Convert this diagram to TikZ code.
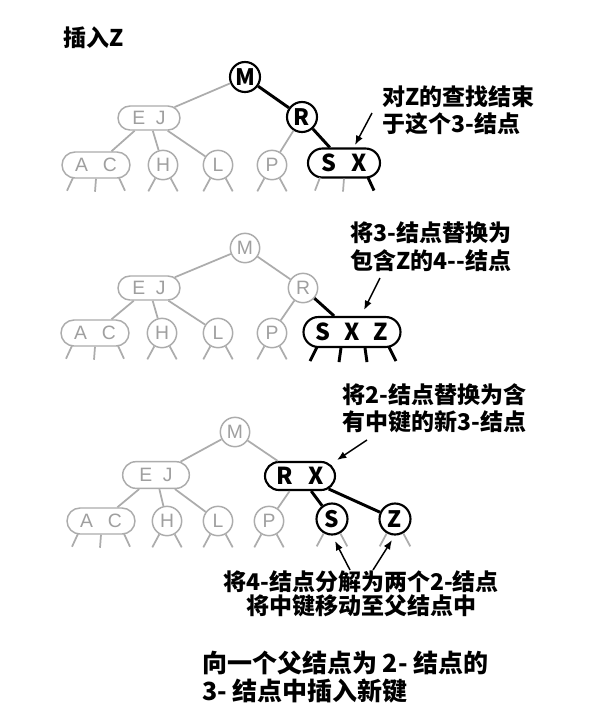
\documentclass[tikz,border=0pt]{standalone}
\usepackage{fontspec}
\setmainfont{Noto Sans CJK SC}
\newfontfamily\grayfont{Liberation Sans}
\usetikzlibrary{shapes.misc,arrows.meta,calc}
\begin{document}
\begin{tikzpicture}[x=0.75pt,y=-0.75pt,
  bc/.style={circle,draw=black,line width=1.6pt,minimum size=22.5pt,inner sep=0pt,font=\bfseries\fontsize{17}{17}\selectfont},
  gc/.style={circle,draw=gray!65,line width=1.1pt,minimum size=22pt,inner sep=0pt,text=gray!75,font=\grayfont\fontsize{14.5}{14.5}\selectfont},
  bo/.style={rounded rectangle,draw=black,line width=1.6pt,inner sep=0pt,font=\bfseries\fontsize{17.5}{17.5}\selectfont},
  go/.style={rounded rectangle,draw=gray!65,line width=1.1pt,inner sep=0pt,text=gray!75,font=\grayfont\fontsize{14.5}{14.5}\selectfont},
  be/.style={line width=2.2pt,black},
  ge/.style={line width=1.3pt,gray!65},
  lab/.style={anchor=west,inner sep=0pt,font=\bfseries\fontsize{17.25}{17.25}\selectfont},
  captxt/.style={anchor=west,inner sep=0pt,font=\bfseries\fontsize{18.75}{18.75}\selectfont},
  arr/.style={-{Latex[length=7pt,width=5.5pt]},line width=1.1pt},
]
\fill[white] (0,0) rectangle (615,726);
\path[use as bounding box] (0,0) rectangle (615,726);

\node[lab] (title) at (63,38) {插入Z};

% ---------- diagram 1
\node[bc] (M1) at (245,77) {M};
\node[bc] (R1) at (302,117) {R};
\node[go,minimum width=46.5pt,minimum height=18pt] (EJ1) at (149,118) {E\hspace{8pt}J};
\node[go,minimum width=51pt,minimum height=19.5pt] (AC1) at (96,165) {A\hspace{11pt}C};
\node[gc] (H1) at (163,165) {H};
\node[gc] (L1) at (218,165) {L};
\node[gc] (P1) at (272,165) {P};
\node[bo,minimum width=54pt,minimum height=21.75pt] (SX1) at (344,163) {S\hspace{11pt}X};
\node[lab] (t1a) at (382,97) {对Z的查找结束};
\node[lab] (t1b) at (382,124) {于这个3-结点};
\coordinate (a1s) at (372,113);
\coordinate (a1e) at (355,145);

\draw[ge] (M1) -- (EJ1);
\draw[be] (M1) -- (R1);
\draw[ge] (R1) -- (P1);
\draw[be] (R1) -- (SX1);
\draw[ge] (EJ1) -- (AC1);
\draw[ge] (EJ1) -- (H1);
\draw[ge] (EJ1) -- (L1);
\draw[ge] ($(SX1.south)+(-24,-1)$) -- ++(-5,13);
\draw[ge] ($(SX1.south)+(0,0)$) -- ++(-1,13);
\draw[be] ($(SX1.south)+(24,-1)$) -- ++(6,13);
\draw[arr] (a1s) -- (a1e);

% ---------- diagram 2
\node[gc] (M2) at (245,248) {M};
\node[gc] (R2) at (303,288) {R};
\node[go,minimum width=46.5pt,minimum height=18pt] (EJ2) at (149,288) {E\hspace{8pt}J};
\node[go,minimum width=51pt,minimum height=19.5pt] (AC2) at (95,333) {A\hspace{11pt}C};
\node[gc] (H2) at (162,333) {H};
\node[gc] (L2) at (218,333) {L};
\node[gc] (P2) at (272,333) {P};
\node[bo,minimum width=72.75pt,minimum height=22.5pt] (SXZ2) at (352,332) {S\hspace{10.5pt}X\hspace{10.5pt}Z};
\node[lab] (t2a) at (350,233) {将3-结点替换为};
\node[lab] (t2b) at (350,261) {包含Z的4-{}-结点};
\coordinate (a2s) at (380,278);
\coordinate (a2e) at (364,310);

\draw[ge] (M2) -- (EJ2);
\draw[ge] (M2) -- (R2);
\draw[ge] (R2) -- (P2);
\draw[be] (R2) -- (SXZ2);
\draw[ge] (EJ2) -- (AC2);
\draw[ge] (EJ2) -- (H2);
\draw[ge] (EJ2) -- (L2);
\draw[be] ($(SXZ2.south)+(-35,-1)$) -- ++(-7,14);
\draw[be] ($(SXZ2.south)+(-11,0)$) -- ++(-2,14);
\draw[be] ($(SXZ2.south)+(13,0)$) -- ++(2,14);
\draw[be] ($(SXZ2.south)+(37,-1)$) -- ++(7,14);
\draw[arr] (a2s) -- (a2e);

% ---------- diagram 3
\node[gc] (M3) at (235,432) {M};
\node[go,minimum width=50pt,minimum height=20pt] (EJ3) at (156,475) {E\hspace{8pt}J};
\node[bo,minimum width=52.5pt,minimum height=21pt] (RX3) at (300,476) {R\hspace{12pt}X};
\node[go,minimum width=51pt,minimum height=19.5pt] (AC3) at (101,521) {A\hspace{11pt}C};
\node[gc] (H3) at (167,521) {H};
\node[gc] (L3) at (218,521) {L};
\node[gc] (P3) at (269,521) {P};
\node[bc,minimum size=23.25pt] (S3) at (332,519) {S};
\node[bc,minimum size=23.25pt] (Z3) at (395,519) {Z};
\node[lab] (t3a) at (342,395) {将2-结点替换为含};
\node[lab] (t3b) at (342,422) {有中键的新3-结点};
\coordinate (a3s) at (367,440);
\coordinate (a3e) at (337,460);
\node[lab,anchor=center] (t4a) at (361,582) {将4-结点分解为两个2-结点};
\node[lab,anchor=center] (t4b) at (361,606) {将中键移动至父结点中};
\coordinate (a4s) at (350,570);
\coordinate (a4e) at (335,541);
\coordinate (a5s) at (373,570);
\coordinate (a5e) at (392,540);
\node[captxt] (c1) at (202,663) {向一个父结点为 2- 结点的};
\node[captxt] (c2) at (202,691) {3- 结点中插入新键};

\draw[ge] (M3) -- (EJ3);
\draw[ge] (M3) -- (RX3);
\draw[ge] (RX3) -- (P3);
\draw[be] (RX3) -- (S3);
\draw[be] (RX3) -- (Z3);
\draw[ge] (EJ3) -- (AC3);
\draw[ge] (EJ3) -- (H3);
\draw[ge] (EJ3) -- (L3);
\draw[arr] (a3s) -- (a3e);
\draw[arr] (a4s) -- (a4e);
\draw[arr] (a5s) -- (a5e);

% ---------- stubs under leaves
\foreach \n in {H1,L1,P1,H2,L2,P2,H3,L3,P3,S3,Z3}{
  \draw[ge] (\n.240) -- ++(-7,13);
  \draw[ge] (\n.300) -- ++(7,13);
}
\foreach \n in {AC1,AC2,AC3}{
  \draw[ge] ($(\n.south)+(-23,-1)$) -- ++(-6,13);
  \draw[ge] ($(\n.south)+(0,0)$) -- ++(-1,13);
  \draw[ge] ($(\n.south)+(23,-1)$) -- ++(6,13);
}
\end{tikzpicture}
\end{document}
